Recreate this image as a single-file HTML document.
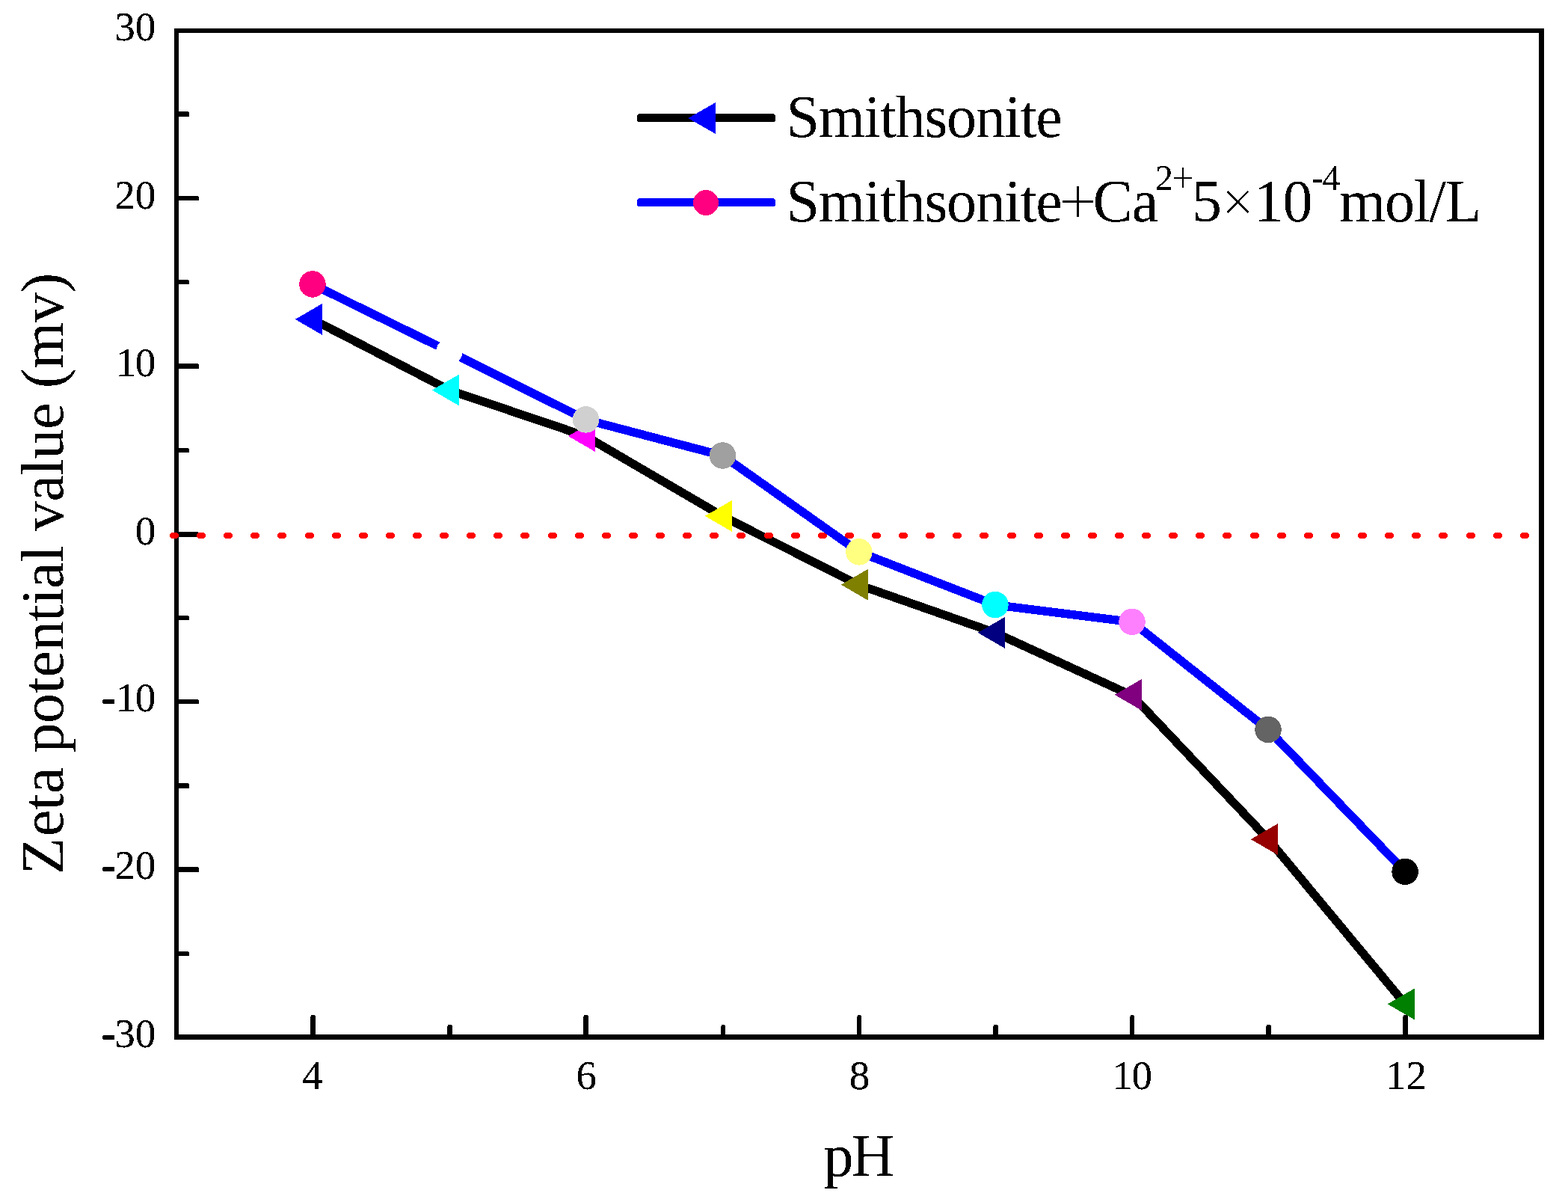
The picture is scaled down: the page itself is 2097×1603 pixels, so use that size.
<!DOCTYPE html>
<html lang="en"><head><meta charset="utf-8"><title>Zeta potential value vs pH</title>
<style>
html,body{margin:0;padding:0;background:#fff;width:2097px;height:1603px;}
body{overflow:hidden;}
svg{display:block;}
text{font-family:"Liberation Serif","Times New Roman",Times,serif;fill:#000;}
.tick{font-size:55px;}
.ttl{font-size:80px;}
.leg{font-size:80px;letter-spacing:-1.3px;}
.sup{font-size:48px;letter-spacing:0;}
</style></head><body>
<svg width="2097" height="1603" viewBox="0 0 2097 1603">
<defs><filter id="crisp" x="0" y="0" width="2097" height="1603" filterUnits="userSpaceOnUse" color-interpolation-filters="sRGB"><feColorMatrix type="matrix" values="0 0 0 0 0 0 0 0 0 0 0 0 0 0 0 -1 0 0 1 0"/><feComponentTransfer><feFuncA type="discrete" tableValues="0 1"/></feComponentTransfer></filter><filter id="crispb" x="0" y="0" width="2097" height="1603" filterUnits="userSpaceOnUse" color-interpolation-filters="sRGB"><feColorMatrix type="matrix" values="0 0 0 0 0 0 0 0 0 0 0 0 0 0 0 -1 0 0 1 0"/><feComponentTransfer><feFuncA type="discrete" tableValues="0 0 1 1 1"/></feComponentTransfer></filter></defs>
<rect x="0" y="0" width="2097" height="1603" fill="#ffffff"/>
<g fill="#000" shape-rendering="crispEdges">
<rect x="233" y="38" width="6" height="1352"/>
<rect x="233" y="38" width="1832" height="6"/>
<rect x="2058" y="38" width="7" height="1352"/>
<rect x="233" y="1383" width="1832" height="7"/>
<path d="M236,149H252V150H253V156H236Z"/>
<path d="M236,262H265V263H266V268H236Z"/>
<path d="M236,374H252V375H253V380H236Z"/>
<path d="M236,486H265V487H266V493H236Z"/>
<path d="M236,599H252V600H253V605H236Z"/>
<path d="M236,711H265V712H266V718H236Z"/>
<path d="M236,823H252V824H253V829H236Z"/>
<path d="M236,935H265V936H266V941H236Z"/>
<path d="M236,1047H252V1048H253V1054H236Z"/>
<path d="M236,1159H265V1160H266V1166H236Z"/>
<path d="M236,1272H252V1273H253V1278H236Z"/>
<path d="M416,1357H421V1358H422V1386H415V1359H416Z"/>
<path d="M599,1370H604V1371H605V1386H598V1372H599Z"/>
<path d="M781,1357H786V1358H787V1386H780V1359H781Z"/>
<path d="M965,1370H969V1371H970V1386H964V1372H965Z"/>
<path d="M1147,1357H1151V1358H1152V1386H1146V1359H1147Z"/>
<path d="M1329,1370H1334V1371H1335V1386H1328V1372H1329Z"/>
<path d="M1512,1357H1516V1358H1517V1386H1511V1359H1512Z"/>
<path d="M1694,1370H1699V1371H1700V1386H1693V1372H1694Z"/>
<path d="M1877,1357H1882V1358H1883V1386H1876V1359H1877Z"/>
</g>
<g shape-rendering="crispEdges">
<polyline points="418.5,427.2 601.5,521.8 783.5,583.3 966.5,690.2 1148.5,782.0 1331.5,846.2 1514.5,930.2 1696.5,1122.4 1879.5,1342.7" fill="none" stroke="#000" stroke-width="11.4" stroke-linejoin="round" stroke-linecap="butt"/>
<polygon points="394.8,426.9 431.0,405.9 431.0,447.9" fill="#0000ff"/>
<polygon points="577.8,521.5 614.0,500.5 614.0,542.5" fill="#00ffff"/>
<polygon points="759.8,583.0 796.0,562.0 796.0,604.0" fill="#ff00ff"/>
<polygon points="942.8,689.9 979.0,668.9 979.0,710.9" fill="#ffff00"/>
<polygon points="1124.8,781.7 1161.0,760.7 1161.0,802.7" fill="#808000"/>
<polygon points="1307.8,845.9 1344.0,824.9 1344.0,866.9" fill="#000080"/>
<polygon points="1490.8,928.9 1527.0,907.9 1527.0,949.9" fill="#800080"/>
<polygon points="1672.8,1122.1 1709.0,1101.1 1709.0,1143.1" fill="#960000"/>
<polygon points="1855.8,1342.4 1892.0,1321.4 1892.0,1363.4" fill="#008000"/>
<g fill="#ff0000"><rect x="227" y="712" width="12" height="8" rx="4" ry="4"/><rect x="263" y="712" width="12" height="8" rx="4" ry="4"/><rect x="299" y="712" width="12" height="8" rx="4" ry="4"/><rect x="335" y="712" width="12" height="8" rx="4" ry="4"/><rect x="371" y="712" width="12" height="8" rx="4" ry="4"/><rect x="408" y="712" width="12" height="8" rx="4" ry="4"/><rect x="444" y="712" width="12" height="8" rx="4" ry="4"/><rect x="480" y="712" width="12" height="8" rx="4" ry="4"/><rect x="516" y="712" width="12" height="8" rx="4" ry="4"/><rect x="552" y="712" width="12" height="8" rx="4" ry="4"/><rect x="588" y="712" width="12" height="8" rx="4" ry="4"/><rect x="624" y="712" width="12" height="8" rx="4" ry="4"/><rect x="660" y="712" width="12" height="8" rx="4" ry="4"/><rect x="696" y="712" width="12" height="8" rx="4" ry="4"/><rect x="733" y="712" width="12" height="8" rx="4" ry="4"/><rect x="769" y="712" width="12" height="8" rx="4" ry="4"/><rect x="805" y="712" width="12" height="8" rx="4" ry="4"/><rect x="841" y="712" width="12" height="8" rx="4" ry="4"/><rect x="877" y="712" width="12" height="8" rx="4" ry="4"/><rect x="913" y="712" width="12" height="8" rx="4" ry="4"/><rect x="949" y="712" width="12" height="8" rx="4" ry="4"/><rect x="985" y="712" width="12" height="8" rx="4" ry="4"/><rect x="1022" y="712" width="12" height="8" rx="4" ry="4"/><rect x="1058" y="712" width="12" height="8" rx="4" ry="4"/><rect x="1094" y="712" width="12" height="8" rx="4" ry="4"/><rect x="1130" y="712" width="12" height="8" rx="4" ry="4"/><rect x="1166" y="712" width="12" height="8" rx="4" ry="4"/><rect x="1202" y="712" width="12" height="8" rx="4" ry="4"/><rect x="1238" y="712" width="12" height="8" rx="4" ry="4"/><rect x="1274" y="712" width="12" height="8" rx="4" ry="4"/><rect x="1310" y="712" width="12" height="8" rx="4" ry="4"/><rect x="1347" y="712" width="12" height="8" rx="4" ry="4"/><rect x="1383" y="712" width="12" height="8" rx="4" ry="4"/><rect x="1419" y="712" width="12" height="8" rx="4" ry="4"/><rect x="1455" y="712" width="12" height="8" rx="4" ry="4"/><rect x="1491" y="712" width="12" height="8" rx="4" ry="4"/><rect x="1527" y="712" width="12" height="8" rx="4" ry="4"/><rect x="1563" y="712" width="12" height="8" rx="4" ry="4"/><rect x="1599" y="712" width="12" height="8" rx="4" ry="4"/><rect x="1635" y="712" width="12" height="8" rx="4" ry="4"/><rect x="1672" y="712" width="12" height="8" rx="4" ry="4"/><rect x="1708" y="712" width="12" height="8" rx="4" ry="4"/><rect x="1744" y="712" width="12" height="8" rx="4" ry="4"/><rect x="1780" y="712" width="12" height="8" rx="4" ry="4"/><rect x="1816" y="712" width="12" height="8" rx="4" ry="4"/><rect x="1852" y="712" width="12" height="8" rx="4" ry="4"/><rect x="1888" y="712" width="12" height="8" rx="4" ry="4"/><rect x="1924" y="712" width="12" height="8" rx="4" ry="4"/><rect x="1961" y="712" width="12" height="8" rx="4" ry="4"/><rect x="1997" y="712" width="12" height="8" rx="4" ry="4"/><rect x="2033" y="712" width="12" height="8" rx="4" ry="4"/></g>
<polyline points="418.2,380.2 601.3,470.3 783.8,561.2 966.8,609.3 1149.2,738.1 1331.2,808.8 1514.3,831.7 1696.3,975.8 1879.4,1165.6" fill="none" stroke="#0000ff" stroke-width="11.4" stroke-linejoin="round" stroke-linecap="butt"/>
<circle cx="417.95" cy="379.95" r="17.75" fill="#ff0080"/>
<circle cx="601.00" cy="470.00" r="17.75" fill="#ffffff"/>
<circle cx="783.55" cy="560.95" r="17.75" fill="#d0d0d0"/>
<circle cx="966.50" cy="609.05" r="17.75" fill="#a0a0a0"/>
<circle cx="1148.90" cy="737.85" r="17.75" fill="#ffff80"/>
<circle cx="1330.90" cy="808.50" r="17.75" fill="#00ffff"/>
<circle cx="1514.00" cy="831.40" r="17.75" fill="#ff80ff"/>
<circle cx="1696.00" cy="975.45" r="17.75" fill="#646464"/>
<circle cx="1879.10" cy="1165.35" r="17.75" fill="#000000"/>
</g>
<g class="tick" filter="url(#crispb)">
<text x="153.15" y="53.6">30</text>
<text x="153.15" y="278.6">20</text>
<text x="154.65 180.65" y="502.6">10</text>
<text x="180.65" y="727.6">0</text>
<text x="136.0" y="950.6" stroke="#000" stroke-width="1">-</text>
<text x="154.65 180.65" y="950.6">10</text>
<text x="136.0" y="1174.6" stroke="#000" stroke-width="1">-</text>
<text x="153.15" y="1174.6">20</text>
<text x="136.0" y="1399.6" stroke="#000" stroke-width="1">-</text>
<text x="153.15" y="1399.6">30</text>
<text x="404.1" y="1455.6">4</text>
<text x="770.4" y="1455.6">6</text>
<text x="1135.7" y="1455.6">8</text>
<text x="1487.5 1513.5" y="1455.6">10</text>
<text x="1853.1" y="1455.6">12</text>
</g>
<g filter="url(#crisp)">
<text class="ttl" x="1101.6" y="1572" style="letter-spacing:-3px">pH</text>
<text class="ttl" transform="translate(84,1168.9) rotate(-90)" style="letter-spacing:-0.37px">Z<tspan dx="2.2">eta potential value (mv)</tspan></text>
<text class="leg" x="1051.6" y="183">Smithsonite</text>
<text class="leg" x="1051.6" y="296">Smithsonite</text>
<text x="1415.8" y="300" style="font-size:91px" stroke="#fff" stroke-width="1.4">+</text>
<text class="leg" x="1461.6" y="296">Ca</text>
<text class="sup" x="1545" y="254">2</text>
<text transform="translate(1566.9,257.4) scale(1,1.074)" style="font-size:53.6px" stroke="#fff" stroke-width="0.6">+</text>
<text class="leg" x="1594" y="296">5</text>
<text x="1633.6" y="296.3" style="font-size:77.5px" stroke="#fff" stroke-width="1.2">×</text>
<text class="leg" x="1676.5 1715.5" y="296">10</text>
<text class="sup" x="1754" y="254" style="letter-spacing:-1.5px">-4</text>
<text class="leg" x="1791" y="296">mol/L</text>
</g>
<g shape-rendering="crispEdges">
<rect x="852" y="152" width="185" height="11" rx="3.5" fill="#000"/>
<polygon points="920.2,158 957,137 957,179" fill="#0000ff"/>
<rect x="852" y="265" width="185" height="11" rx="3.5" fill="#0000ff"/>
<circle cx="944" cy="271" r="17" fill="#ff0080"/>
</g>
</svg></body></html>
